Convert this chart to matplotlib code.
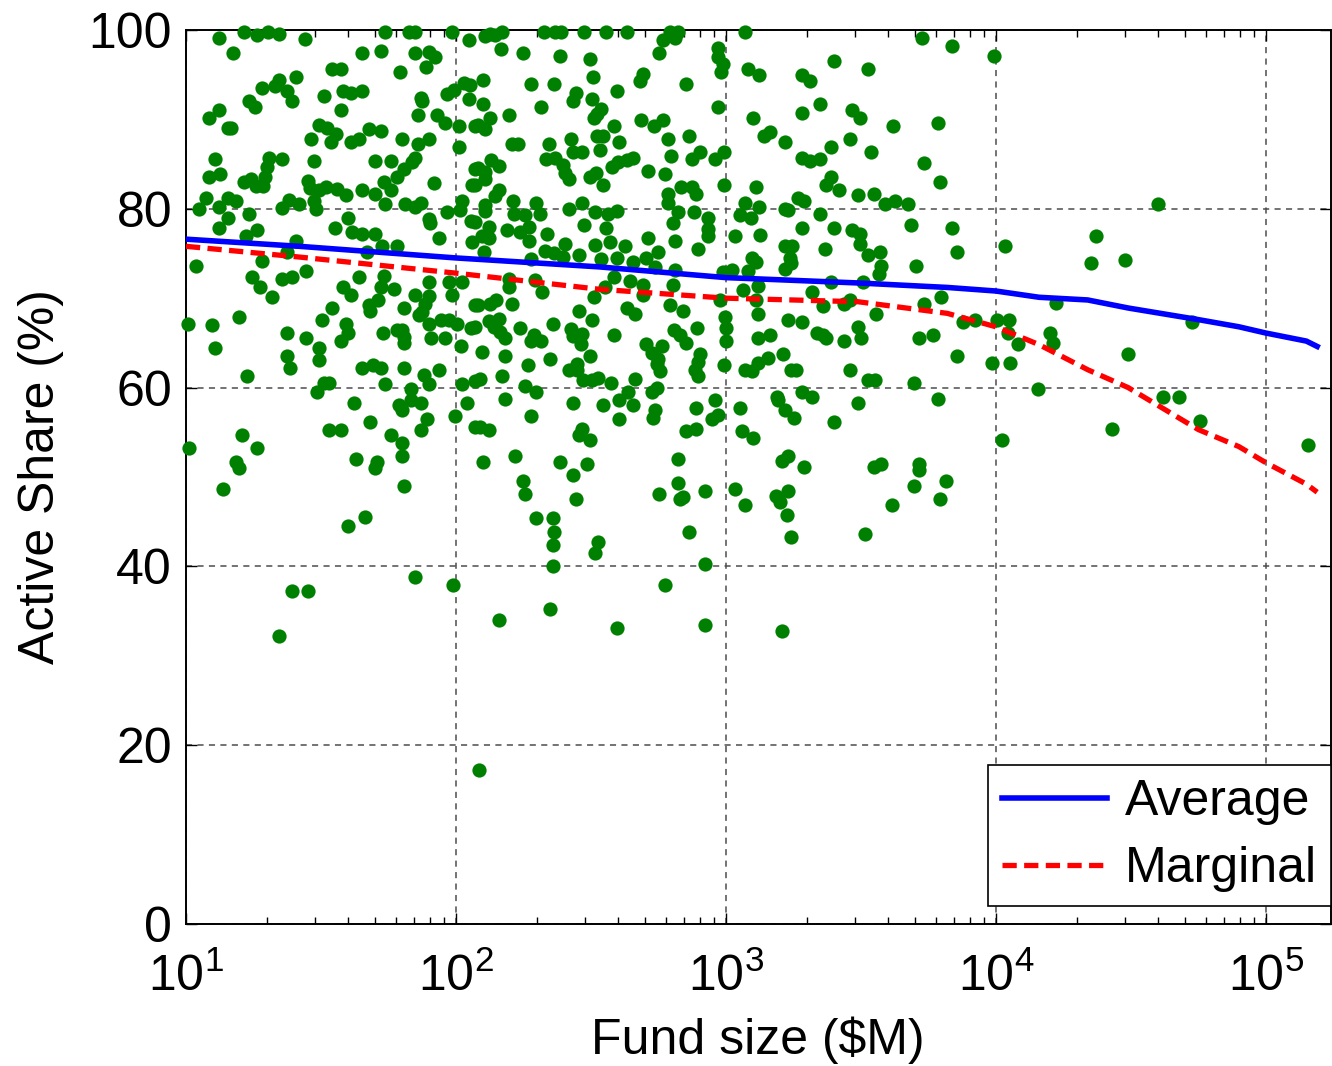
# Active share vs fund size scatter, with average / marginal curves

import numpy as np
import matplotlib
matplotlib.use("Agg")
import matplotlib.pyplot as plt

plt.rcParams['font.family'] = ['Liberation Sans', 'DejaVu Sans']
plt.rcParams['mathtext.fontset'] = 'custom'
plt.rcParams['mathtext.rm'] = 'Liberation Sans'
plt.rcParams['mathtext.it'] = 'Liberation Sans:italic'
plt.rcParams['mathtext.bf'] = 'Liberation Sans:bold'

# funds, log10 of size in $M, roughly 10-120 $M
small_log_size = [
    1.216, 1.262, 1.304, 1.345, 1.739, 1.828, 1.850, 1.986, 1.123, 1.441,
    2.047, 1.176, 1.653, 1.721, 1.850, 1.899, 1.922, 1.542, 1.573, 1.792,
    1.889, 1.407, 1.345, 1.330, 1.283, 1.373, 1.394, 1.234, 1.255, 1.511,
    1.583, 1.612, 1.653, 1.573, 1.869, 1.875, 1.967, 1.992, 2.029, 2.053,
    2.047, 1.123, 1.084, 1.154, 1.166, 1.860, 1.930, 1.958, 2.010, 2.072,
    1.493, 1.524, 1.554, 1.536, 1.462, 1.610, 1.641, 1.678, 1.721, 1.801,
    1.860, 1.899, 2.010, 1.107, 1.306, 1.354, 1.302, 1.474, 1.702, 1.761,
    1.850, 1.838, 1.807, 1.782, 1.084, 1.126, 1.216, 1.240, 1.259, 1.292,
    1.286, 1.453, 1.458, 1.493, 1.517, 1.561, 1.591, 1.653, 1.702, 1.733,
    1.761, 1.918, 2.069, 2.060, 1.076, 1.047, 1.123, 1.154, 1.185, 1.357,
    1.382, 1.419, 1.474, 1.483, 1.739, 1.811, 1.850, 1.872, 1.967, 2.023,
    2.016, 1.156, 1.234, 1.123, 1.265, 1.552, 1.601, 1.899, 1.903, 2.057,
    1.616, 1.653, 1.702,
    1.222, 1.407, 1.936, 2.060, 1.727, 1.782, 1.283, 1.376, 1.037, 1.246,
    1.354, 1.394, 1.444, 1.274, 1.318, 1.641, 1.671, 1.733, 1.721, 1.770,
    1.583, 1.612, 1.899, 1.850, 1.899, 1.887, 1.973, 1.986, 2.023, 2.072,
    1.542, 1.503, 1.678, 1.681, 1.712, 1.809, 1.862, 1.875, 1.006, 1.096,
    1.195, 1.107, 1.373, 1.444, 1.591, 1.601, 1.573, 1.731, 1.782, 1.801,
    1.807, 1.809, 1.899, 1.946, 1.973, 2.004, 1.909, 1.961, 2.020, 2.057,
    1.493, 1.493, 1.373, 1.386, 1.225, 1.653, 1.692, 1.724, 1.809, 1.881,
    1.939, 1.899, 1.511, 1.530, 1.484, 1.739, 1.832, 1.622, 1.788, 1.801,
    1.832, 1.869, 2.023, 2.041, 2.072, 1.891, 1.869, 1.681, 1.998, 1.530,
    1.573, 1.206, 1.761, 1.801, 2.072, 1.012, 1.265,
    1.185, 1.195, 1.136, 1.631, 1.708, 1.700, 1.801, 1.809, 1.601, 1.662,
    1.850, 1.989, 1.394, 1.453, 1.345,
]
small_share = [
    99.8, 99.4, 99.8, 99.5, 99.8, 99.8, 99.8, 99.8, 99.1, 99.0,
    98.9, 97.4, 97.4, 97.7, 97.4, 97.5, 97.0, 95.6, 95.6, 95.3,
    95.9, 94.7, 94.4, 93.7, 93.5, 93.2, 92.0, 92.0, 91.4, 92.6,
    93.2, 92.9, 93.2, 91.0, 92.4, 92.0, 92.8, 93.3, 94.1, 93.8,
    92.3, 91.0, 90.2, 89.0, 89.0, 90.5, 90.5, 89.6, 89.3, 89.3,
    89.4, 89.0, 88.4, 87.5, 87.8, 87.5, 87.8, 88.9, 88.7, 87.8,
    87.2, 87.8, 86.9, 85.6, 85.7, 85.6, 84.7, 85.3, 85.3, 85.3,
    85.7, 85.2, 84.4, 83.5, 83.5, 83.9, 83.0, 83.3, 82.6, 83.5,
    82.6, 83.1, 82.3, 82.1, 82.4, 82.2, 81.5, 82.1, 81.7, 83.0,
    82.1, 82.9, 84.4, 82.7, 81.2, 80.0, 80.2, 81.2, 80.9, 80.1,
    81.0, 80.5, 80.9, 80.0, 80.5, 80.5, 80.2, 80.6, 79.6, 80.9,
    79.9, 79.0, 79.4, 77.9, 77.6, 77.9, 79.0, 78.8, 78.4, 78.6,
    77.4, 77.2, 77.2,
    76.9, 76.4, 76.7, 76.3, 75.8, 75.8, 74.2, 75.2, 73.6, 72.4,
    72.1, 72.4, 73.0, 71.2, 70.1, 72.4, 75.2, 72.5, 71.3, 71.0,
    71.3, 70.4, 71.8, 70.4, 70.2, 69.4, 71.8, 70.4, 71.8, 69.2,
    68.9, 67.6, 69.2, 68.6, 69.8, 68.9, 68.1, 68.4, 67.1, 67.0,
    67.9, 64.4, 66.1, 65.5, 67.1, 66.1, 65.2, 66.1, 66.4, 66.4,
    65.7, 65.0, 67.1, 67.6, 67.6, 67.1, 65.5, 65.5, 64.6, 66.7,
    64.4, 63.1, 63.5, 62.2, 61.3, 62.2, 62.5, 62.2, 62.2, 61.4,
    62.0, 60.4, 60.5, 60.5, 59.5, 60.4, 59.8, 58.3, 58.0, 57.5,
    58.6, 58.3, 60.4, 58.3, 60.7, 56.5, 55.3, 56.2, 56.8, 55.3,
    55.3, 54.7, 54.7, 53.8, 55.6, 53.2, 53.2,
    51.7, 51.0, 48.7, 52.0, 51.7, 51.0, 52.3, 49.0, 44.5, 45.5,
    38.8, 37.9, 37.3, 37.3, 32.2,
]

# roughly 120-1400 $M
mid_log_size = [
    2.109, 2.127, 2.146, 2.171, 2.325, 2.368, 2.390, 2.476, 2.555, 2.635,
    2.793, 2.823, 2.811, 2.766, 3.070, 2.168, 2.248, 2.386, 2.497, 2.753,
    2.971, 2.971, 2.990, 2.981, 3.080, 3.122, 2.099, 2.278, 2.365, 2.506,
    2.694, 2.682, 2.852, 2.596, 2.445, 2.435, 2.503, 2.099, 2.316, 2.538,
    2.522, 2.513, 2.198, 2.127, 2.082, 2.109, 2.971, 3.101, 3.141, 2.684,
    2.734, 2.766, 2.587, 2.522, 2.546, 2.604, 2.534, 2.426, 2.346, 2.208,
    2.230, 2.784, 2.863, 2.795, 2.873, 2.904, 2.959, 2.994, 2.435, 2.466,
    2.334, 2.368, 2.396, 2.405, 2.417, 2.577, 2.602, 2.633, 2.657, 2.497,
    2.518, 2.546, 2.713, 2.774, 2.130, 2.158, 2.082, 2.107, 2.109, 2.072,
    2.158, 2.146, 2.211, 2.297, 2.466, 2.107, 2.109, 2.214, 2.257, 2.310,
    2.417, 2.515, 2.565, 2.596, 2.784, 2.784, 2.833, 2.873, 2.891, 2.994,
    3.111, 3.070, 3.122, 2.821, 2.883, 2.805, 2.932, 2.932, 3.051, 3.092,
    2.121, 2.189, 2.238, 2.269, 2.337, 2.476, 2.555, 2.072, 3.033, 3.125,
    2.097, 2.121, 2.269, 2.405, 2.515, 2.571, 2.626, 2.713, 2.811, 2.750,
    2.895, 2.934, 2.103, 2.331, 2.362, 2.398, 2.456, 2.279, 2.538, 2.596,
    2.657, 2.703, 2.737, 2.811, 3.095, 3.113, 3.021, 2.990, 3.082, 2.195,
    2.294, 2.587, 2.645, 2.552, 2.692, 2.805, 3.064, 3.119, 2.195, 2.318,
    2.513, 2.694, 2.977, 3.113, 2.082, 2.127, 2.148, 2.208, 2.456, 2.503,
    2.633, 2.663, 2.793, 2.842, 2.998, 3.119, 2.121, 2.158, 2.140, 2.164,
    2.180, 2.072, 2.238, 2.358, 2.426, 2.435, 2.466, 2.464, 2.288, 2.279,
    2.316, 2.587, 2.704, 2.764, 2.725, 2.747, 2.756, 2.743, 2.809, 2.830,
    2.854, 2.894, 3.002, 3.002, 3.119, 2.097, 2.180, 2.349, 2.267, 2.495,
    2.448, 2.417, 2.448, 2.904, 2.897, 2.885, 2.895, 2.994, 3.070, 3.095,
    3.119, 2.171, 2.090, 2.257, 2.297, 2.472, 2.503, 2.528, 2.575, 2.663,
    2.639, 2.725, 2.743, 2.180, 2.435, 2.546, 2.604, 2.655, 2.737, 2.731,
    2.604, 2.278, 2.959, 2.971, 2.947, 2.891, 3.051, 2.090, 2.121, 2.466,
    2.454, 2.497, 2.854, 2.891, 3.058, 3.101,
    2.099, 2.217, 2.386, 2.487, 2.435, 2.248, 2.257, 2.445, 2.296, 2.358,
    2.365, 2.358, 2.525, 2.516, 2.358, 2.823, 2.823, 2.753, 2.842, 2.830,
    2.922, 3.033, 3.072, 2.863, 2.922, 2.774, 2.347, 2.158, 2.596, 2.922,
    2.087,
]
mid_share = [
    99.3, 99.6, 99.4, 99.8, 99.8, 99.8, 99.8, 99.8, 99.8, 99.8,
    99.8, 99.8, 99.1, 98.9, 99.8, 97.9, 97.4, 97.1, 96.8, 97.4,
    98.0, 97.0, 96.2, 95.3, 95.6, 95.0, 94.4, 94.0, 94.0, 94.7,
    95.1, 94.3, 94.0, 93.2, 92.9, 92.0, 92.3, 91.7, 91.4, 91.2,
    90.6, 90.1, 90.5, 90.2, 89.4, 88.9, 91.4, 90.2, 88.1, 89.9,
    89.3, 89.9, 89.3, 88.1, 88.1, 87.5, 86.6, 87.8, 87.2, 87.2,
    87.2, 87.8, 88.1, 85.9, 85.6, 86.3, 85.6, 86.3, 86.3, 86.3,
    85.6, 85.7, 84.9, 84.0, 83.3, 84.7, 85.2, 85.5, 85.7, 83.6,
    84.0, 82.7, 84.2, 83.9, 85.5, 84.8, 84.6, 84.1, 83.3, 82.7,
    82.1, 81.4, 80.9, 80.7, 80.7, 80.4, 79.7, 79.4, 79.3, 79.4,
    80.0, 79.6, 79.4, 79.7, 81.7, 80.6, 82.4, 82.4, 81.7, 82.7,
    82.4, 80.6, 80.2, 79.6, 79.6, 78.4, 79.0, 77.7, 79.3, 79.0,
    78.0, 77.6, 77.4, 78.0, 77.2, 78.2, 77.9, 78.5, 77.0, 77.1,
    76.9, 76.7, 76.4, 76.1, 76.0, 76.3, 75.8, 76.7, 76.4, 75.2,
    75.5, 76.9, 75.2, 75.3, 75.0, 74.6, 74.8, 74.4, 74.4, 74.5,
    74.0, 74.5, 73.5, 73.1, 74.5, 74.1, 73.2, 72.9, 73.0, 72.2,
    72.0, 72.4, 71.9, 71.3, 71.5, 71.5, 70.9, 71.4, 71.2, 70.7,
    70.1, 70.4, 69.8, 69.8, 69.2, 69.4, 69.8, 69.4, 68.6, 67.6,
    68.9, 68.2, 69.2, 68.6, 67.9, 68.2, 67.4, 67.7, 66.8, 66.2,
    65.5, 66.8, 66.7, 67.1, 66.5, 65.8, 66.0, 64.9, 65.9, 65.2,
    65.2, 65.9, 64.9, 64.7, 63.9, 63.2, 61.9, 62.6, 66.4, 65.9,
    65.0, 66.7, 66.7, 65.2, 65.5, 64.0, 63.5, 63.2, 62.5, 63.5,
    62.6, 62.0, 62.0, 63.7, 62.9, 62.0, 61.3, 62.5, 62.0, 61.8,
    62.7, 61.3, 61.0, 60.2, 59.5, 60.8, 60.8, 61.1, 60.5, 61.0,
    59.5, 59.5, 59.9, 58.7, 58.3, 58.0, 58.6, 58.0, 57.5, 56.6,
    56.5, 56.8, 58.6, 56.9, 56.5, 57.7, 57.7, 55.6, 55.3, 55.4,
    54.7, 54.1, 55.1, 55.4, 55.1, 54.4,
    51.7, 52.3, 51.7, 51.4, 50.2, 49.6, 48.1, 47.5, 45.4, 45.4,
    43.9, 42.4, 42.7, 41.5, 40.0, 52.0, 49.3, 48.1, 47.8, 47.5,
    48.4, 48.7, 46.9, 43.9, 40.3, 37.9, 35.2, 34.0, 33.1, 33.4,
    17.2,
]

# above roughly 1400 $M
large_log_size = [
    3.727, 3.836, 3.994, 3.399, 3.528, 3.280, 3.310, 3.350, 3.280, 3.467,
    3.498, 3.618, 3.785, 3.162, 3.220, 3.458, 3.390, 3.538, 3.280, 3.310,
    3.350, 3.735, 3.390, 3.369, 3.419, 3.794, 3.267, 3.289, 3.218, 3.230,
    3.350, 3.489, 3.548, 3.588, 3.628, 3.676, 3.280, 3.399, 3.467, 3.498,
    3.686, 3.836,
    3.218, 3.243, 3.236, 3.240, 3.218, 3.368, 3.498, 3.528, 3.569, 3.575,
    3.567, 3.705, 3.856, 4.035, 3.390, 3.507, 3.320, 3.360, 3.437, 3.458,
    3.557, 3.735, 3.795, 3.230, 3.280, 3.162, 3.339, 3.360, 3.372, 3.437,
    3.489, 3.499, 3.717, 3.766, 3.877, 3.924, 4.004, 4.047, 4.043, 4.083,
    3.156, 3.212, 3.240, 3.261, 3.458, 3.856, 3.985, 4.053, 3.528, 3.551,
    3.696, 3.191, 3.193, 3.280, 3.320, 3.489, 3.785, 3.220, 3.251, 3.399,
    4.022,
    3.230, 3.208, 3.289, 3.548, 3.575, 3.714, 3.714, 3.815, 3.696, 3.794,
    3.187, 3.230, 3.199, 3.228, 3.240, 3.517, 3.616, 3.209,
    4.601, 4.372, 4.353, 4.479, 4.224, 4.200, 4.213, 4.490, 4.726, 4.157,
    4.619, 4.678, 4.756, 4.431, 5.155,
]
large_share = [
    99.1, 98.2, 97.1, 96.5, 95.6, 95.0, 94.3, 91.7, 90.7, 91.0,
    90.1, 89.3, 89.6, 88.6, 87.5, 87.8, 86.9, 86.3, 85.7, 85.3,
    85.6, 85.1, 83.6, 82.7, 82.1, 83.0, 81.2, 80.9, 80.0, 79.9,
    79.4, 81.5, 81.7, 80.5, 80.9, 80.5, 77.9, 77.9, 77.6, 77.2,
    78.2, 77.9,
    75.8, 75.8, 74.5, 73.9, 73.3, 75.5, 76.1, 74.8, 75.2, 73.6,
    72.7, 73.6, 75.2, 75.8, 71.8, 71.8, 70.7, 69.1, 69.4, 69.8,
    68.2, 69.4, 70.1, 67.6, 67.3, 65.9, 66.1, 65.9, 65.5, 65.2,
    66.8, 65.6, 65.6, 65.9, 67.3, 67.6, 67.6, 67.6, 66.1, 64.9,
    63.3, 63.8, 62.0, 62.0, 62.0, 63.5, 62.8, 62.8, 60.8, 60.8,
    60.5, 59.0, 58.6, 59.5, 58.9, 58.3, 58.7, 57.5, 56.6, 56.2,
    54.1,
    52.4, 51.8, 51.1, 51.1, 51.4, 51.5, 50.8, 49.6, 49.0, 47.5,
    47.9, 48.4, 47.2, 45.7, 43.3, 43.6, 46.9, 32.8,
    80.5, 77.0, 73.9, 74.3, 69.5, 66.1, 65.0, 63.8, 67.3, 59.8,
    58.9, 58.9, 56.3, 55.4, 53.6,
]

# fitted curves
curve_log_size = [1.0, 1.42, 2.0, 2.53, 3.0, 3.49, 3.82, 4.0, 4.16, 4.34,
                  4.49, 4.75, 4.90, 5.0, 5.15, 5.19]
average_share = [76.6, 75.8, 74.5, 73.5, 72.3, 71.7, 71.2, 70.8, 70.1, 69.8,
                 68.9, 67.6, 66.8, 66.1, 65.2, 64.6]
marginal_share = [75.8, 74.6, 72.8, 71.0, 70.0, 69.6, 68.3, 66.8, 64.8, 62.0,
                  60.0, 55.3, 53.4, 51.6, 49.2, 48.3]

fund_size = 10 ** np.concatenate([small_log_size, mid_log_size, large_log_size])
active_share = np.concatenate([small_share, mid_share, large_share])
curve_size = 10 ** np.array(curve_log_size)

fig = plt.figure(figsize=(13.32, 10.66), dpi=100)
ax = fig.add_axes([0.1396, 0.1332, 0.8594, 0.8387])

ax.scatter(fund_size, active_share, s=105, color='#008000', linewidths=0,
           clip_on=False, zorder=3)
ax.plot(curve_size, average_share, color='#0000ff', lw=4.0, label='Average', zorder=4)
ax.plot(curve_size, marginal_share, color='#ff0000', lw=3.8,
        linestyle=(0, (2.7, 1.4)), label='Marginal', zorder=4)

ax.set_xscale('log')
ax.set_xlim(10, 10 ** 5.24)
ax.set_ylim(0, 100)
ax.set_yticks([0, 20, 40, 60, 80, 100])

ax.grid(True, which='major', color='0.3', linestyle=(0, (4, 3.5)), linewidth=1.1)
ax.set_axisbelow(True)
ax.tick_params(which='both', direction='in', top=True, right=True,
               labelsize=36, width=1.0)
ax.tick_params(which='major', length=8)
ax.tick_params(which='minor', length=5)
ax.tick_params(axis='y', pad=10)
ax.tick_params(axis='x', pad=21)
for sp in ax.spines.values():
    sp.set_linewidth(1.4)

ax.set_xlabel(r'Fund size (\$M)', fontsize=36, labelpad=11)
ax.set_ylabel('Active Share (%)', fontsize=36, labelpad=18)

leg = ax.legend(loc='lower right', bbox_to_anchor=(1.0, 0.02), fontsize=36,
                frameon=True, fancybox=False, framealpha=1, edgecolor='black',
                borderaxespad=0, handlelength=2.1, handletextpad=0.35,
                labelspacing=0.42, borderpad=0.28)
leg.get_frame().set_linewidth(1.2)
leg.set_zorder(5)

fig.savefig('out.png', dpi=100)
